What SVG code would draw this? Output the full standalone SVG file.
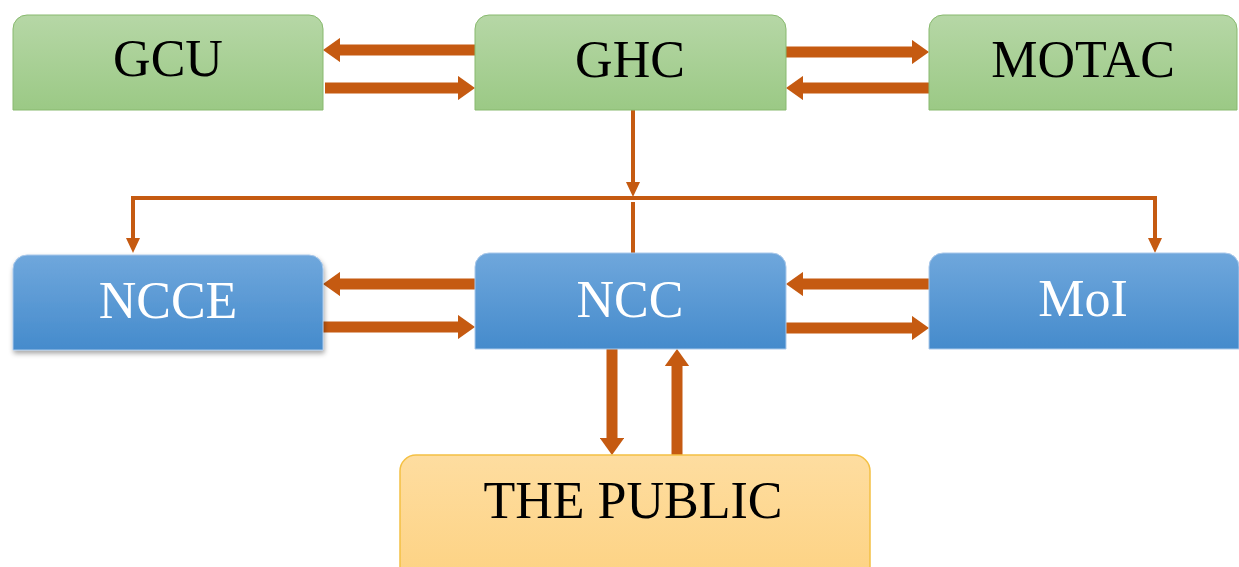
<svg xmlns="http://www.w3.org/2000/svg" width="1239" height="567" viewBox="0 0 1239 567">
  <defs>
    <linearGradient id="gGreen" x1="0" y1="0" x2="0" y2="1">
      <stop offset="0" stop-color="#b6d7a6"/>
      <stop offset="1" stop-color="#9bc985"/>
    </linearGradient>
    <linearGradient id="gBlue" x1="0" y1="0" x2="0" y2="1">
      <stop offset="0" stop-color="#6fa7dc"/>
      <stop offset="1" stop-color="#458bcc"/>
    </linearGradient>
    <linearGradient id="gGold" x1="0" y1="0" x2="0" y2="1">
      <stop offset="0" stop-color="#fedda0"/>
      <stop offset="1" stop-color="#fdd282"/>
    </linearGradient>
    <filter id="shadow" x="-5%" y="-5%" width="112%" height="125%">
      <feDropShadow dx="1" dy="3" stdDeviation="2.5" flood-color="#000" flood-opacity="0.35"/>
    </filter>
    <marker id="thick" viewBox="0 0 1.55 2.2" refX="0" refY="1.1" markerWidth="1.55" markerHeight="2.2" orient="auto" markerUnits="strokeWidth">
      <path d="M0,0 L1.55,1.1 L0,2.2 Z" fill="#c55a11"/>
    </marker>
    <marker id="thin" viewBox="0 0 3.75 3.5" refX="0" refY="1.75" markerWidth="3.75" markerHeight="3.5" orient="auto" markerUnits="strokeWidth">
      <path d="M0,0 L3.75,1.75 L0,3.5 Z" fill="#c55a11"/>
    </marker>
  </defs>
  <style>
    .green { fill: url(#gGreen); stroke: #88b96e; stroke-width: 1; }
    .blue { fill: url(#gBlue); stroke: #a9c8ea; stroke-width: 1; }
    .gold { fill: url(#gGold); stroke: #f4c043; stroke-width: 1.5; }
    .lbl { font-family: "Liberation Serif", "Times New Roman", serif; font-size: 52px; text-anchor: middle; }
    .dark { fill: #000; }
    .light { fill: #fff; }
    .thick { fill: none; stroke: #c55a11; stroke-width: 11; marker-end: url(#thick); }
    .thin { fill: none; stroke: #c55a11; stroke-width: 4; stroke-linejoin: miter; }
    .thinA { marker-end: url(#thin); }
  </style>

  <g id="connectors">
    <path class="thick" d="M475,50 H340"/>
    <path class="thick" d="M325,88 H458"/>
    <path class="thick" d="M786,52 H912"/>
    <path class="thick" d="M929,88 H803"/>
    <path class="thick" d="M475,284 H340"/>
    <path class="thick" d="M323,327 H458"/>
    <path class="thick" d="M929,284 H803"/>
    <path class="thick" d="M786,328 H912"/>
    <path class="thick" d="M612,349 V438"/>
    <path class="thick" d="M677,455 V366"/>
    <path class="thin thinA" d="M633,110 V182"/>
    <path class="thin thinA" d="M633,198 H133 V238"/>
    <path class="thin thinA" d="M633,198 H1155 V238"/>
    <path class="thin" d="M633,202 V254"/>
  </g>

  <g id="node-gcu">
    <path class="green" d="M13,110 V29 A14,14 0 0 1 27,15 H309 A14,14 0 0 1 323,29 V110 Z"/>
    <text class="lbl dark" x="168" y="76">GCU</text>
  </g>
  <g id="node-ghc">
    <path class="green" d="M475,110 V29 A14,14 0 0 1 489,15 H772 A14,14 0 0 1 786,29 V110 Z"/>
    <text class="lbl dark" x="630" y="77">GHC</text>
  </g>
  <g id="node-motac">
    <path class="green" d="M929,110 V29 A14,14 0 0 1 943,15 H1223 A14,14 0 0 1 1237,29 V110 Z"/>
    <text class="lbl dark" x="1083" y="77">MOTAC</text>
  </g>

  <g id="node-ncce">
    <path class="blue" filter="url(#shadow)" d="M13,350 V269 A14,14 0 0 1 27,255 H309 A14,14 0 0 1 323,269 V350 Z"/>
    <text class="lbl light" x="168" y="318">NCCE</text>
  </g>
  <g id="node-ncc">
    <path class="blue" d="M475,349 V267 A14,14 0 0 1 489,253 H772 A14,14 0 0 1 786,267 V349 Z"/>
    <text class="lbl light" x="630" y="317">NCC</text>
  </g>
  <g id="node-moi">
    <path class="blue" d="M929,349 V267 A14,14 0 0 1 943,253 H1225 A14,14 0 0 1 1239,267 V349 Z"/>
    <text class="lbl light" x="1083" y="316">MoI</text>
  </g>

  <g id="node-public">
    <rect class="gold" x="400" y="455" width="470" height="130" rx="16" ry="16"/>
    <text class="lbl dark" x="633" y="518">THE PUBLIC</text>
  </g>
</svg>
